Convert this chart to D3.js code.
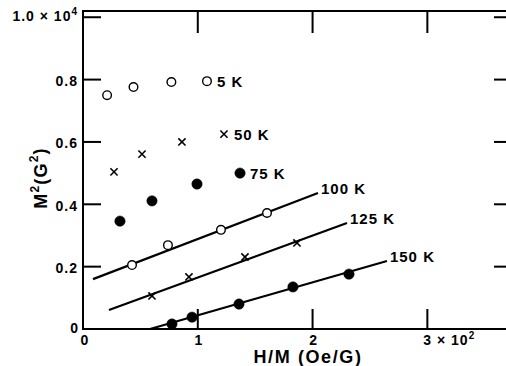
<!DOCTYPE html>
<html>
<head>
<meta charset="utf-8">
<script src="https://cdn.jsdelivr.net/npm/d3@7"></script>
<style>
  body { margin: 0; background: #fff; }
</style>
</head>
<body>
<div id="chart"></div>
<script>
// values: H/M in units of 10^2 Oe/G, M^2 in units of 10^4 G^2
const xTicks = [1, 2, 3]
const yTicks = [0.2, 0.4, 0.6, 0.8, 1.0]

const h5 = [0.21, 0.44, 0.77, 1.08]
const m5 = [0.75, 0.776, 0.792, 0.795]
const h50 = [0.27, 0.514, 0.862, 1.228]
const m50 = [0.504, 0.561, 0.6, 0.625]
const h75 = [0.322, 0.601, 0.993, 1.368]
const m75 = [0.346, 0.411, 0.465, 0.5]
const h100 = [0.427, 0.74, 1.202, 1.603]
const m100 = [0.205, 0.269, 0.318, 0.372]
const h125 = [0.601, 0.923, 1.411, 1.864]
const m125 = [0.106, 0.167, 0.231, 0.276]
const h150 = [0.775, 0.95, 1.359, 1.829, 2.317]
const m150 = [0.016, 0.038, 0.08, 0.135, 0.176]

// straight lines drawn through the 100, 125 and 150 K points (end points)
const fit100 = [[0.087, 0.16], [2.047, 0.436]]
const fit125 = [[0.226, 0.061], [2.3, 0.34]]
const fit150 = [[0.584, 0.0], [2.648, 0.218]]

const series = [
  {label: "5 K", h: h5, m: m5, mark: "open", fit: null},
  {label: "50 K", h: h50, m: m50, mark: "cross", fit: null},
  {label: "75 K", h: h75, m: m75, mark: "filled", fit: null},
  {label: "100 K", h: h100, m: m100, mark: "open", fit: fit100},
  {label: "125 K", h: h125, m: m125, mark: "cross", fit: fit125},
  {label: "150 K", h: h150, m: m150, mark: "filled", fit: fit150}
]

const svg = d3.select("#chart")
  .append("svg")
  .attr("width", 506)
  .attr("height", 366)

const x = d3.scaleLinear().domain([0, 3.72]).range([83, 510])
const y = d3.scaleLinear().domain([0, 1.02]).range([329, 11])

const xa = x(0), xb = 506, ya = y(0), yb = y.range()[1]
const font = "'Liberation Sans', Arial, sans-serif"

// tick labels
const yLab = svg.append("g").attr("font-family", font).attr("font-weight", "bold")
  .attr("font-size", 14).attr("letter-spacing", 1).attr("text-anchor", "end")
yLab.append("text").attr("x", 79).attr("y", y(0)).attr("dy", "0.3em").text("0")
yLab.selectAll(".yl").data(yTicks.slice(0, 4)).join("text")
  .attr("x", 78).attr("y", d => y(d)).attr("dy", "0.45em")
  .text(d => d3.format(".1f")(d))
const yTopLab = yLab.append("text").attr("x", 78).attr("y", y(1.0)).attr("dy", "0.3em")
yTopLab.append("tspan").text("1.0 × 10")
yTopLab.append("tspan").attr("font-size", 10).attr("dy", "-0.6em").text("4")

const xLab = svg.append("g").attr("font-family", font).attr("font-weight", "bold")
  .attr("font-size", 14).attr("letter-spacing", 1)
xLab.append("text").attr("x", x(0) + 2).attr("y", 345).attr("text-anchor", "middle").text("0")
xLab.selectAll(".xl").data(xTicks.slice(0, 2)).join("text")
  .attr("x", d => x(d) + 1).attr("y", 345).attr("text-anchor", "middle")
  .text(d => d)
const xl3 = xLab.append("text").attr("x", x(3) - 4).attr("y", 345)
xl3.append("tspan").text("3 × 10")
xl3.append("tspan").attr("font-size", 10).attr("dy", "-0.6em").text("2")

// axis titles
svg.append("text")
  .attr("x", 308).attr("y", 363)
  .attr("text-anchor", "middle")
  .attr("font-family", font).attr("font-weight", "bold")
  .attr("font-size", 18).attr("letter-spacing", 1.6)
  .text("H/M (Oe/G)")

const yt = svg.append("text")
  .attr("transform", "translate(47,178) rotate(-90)")
  .attr("text-anchor", "middle")
  .attr("font-family", font).attr("font-weight", "bold")
  .attr("font-size", 18).attr("letter-spacing", 1.2)
yt.append("tspan").text("M")
yt.append("tspan").attr("font-size", 12).attr("dy", "-0.7em").text("2")
yt.append("tspan").attr("dy", "0.45em").text("(G")
yt.append("tspan").attr("font-size", 12).attr("dy", "-0.7em").text("2")
yt.append("tspan").attr("dy", "0.45em").text(")")

// fitted lines
const fitLine = d3.line().x(d => x(d[0])).y(d => y(d[1]))
svg.append("g").selectAll("path")
  .data(series.filter(s => s.fit))
  .join("path")
  .attr("d", s => fitLine(s.fit))
  .attr("fill", "none").attr("stroke", "black").attr("stroke-width", 2.2)

// markers
series.forEach(s => {
  const pts = s.h.map((h, i) => [h, s.m[i]])
  const g = svg.append("g")
  if (s.mark === "cross") {
    g.selectAll("path").data(pts).join("path")
      .attr("d", d => {
        const cx = x(d[0]), cy = y(d[1]), r = 3.6
        return `M${cx - r},${cy - r}L${cx + r},${cy + r}M${cx - r},${cy + r}L${cx + r},${cy - r}`
      })
      .attr("stroke", "black").attr("stroke-width", 1.6)
  } else {
    g.selectAll("circle").data(pts).join("circle")
      .attr("cx", d => x(d[0])).attr("cy", d => y(d[1]))
      .attr("r", s.mark === "open" ? 4.3 : 5.2)
      .attr("fill", s.mark === "open" ? "white" : "black")
      .attr("stroke", "black").attr("stroke-width", s.mark === "open" ? 1.4 : 0.5)
  }
})

// series labels: next to last point, or at the end of the fitted line
svg.append("g").selectAll("text")
  .data(series)
  .join("text")
  .attr("font-family", font).attr("font-weight", "bold")
  .attr("font-size", 15).attr("letter-spacing", 1)
  .attr("x", s => s.fit ? x(s.fit[1][0]) + 3 : x(s.h[s.h.length - 1]) + 10)
  .attr("y", s => s.fit ? y(s.fit[1][1]) - 4 : y(s.m[s.m.length - 1]))
  .attr("dy", "0.36em")
  .text(s => s.label)

// frame and inward ticks, drawn last as thin filled bars (right axis falls off the page)
const bars = [
  [xa - 1, yb - 1, xb - xa + 1, 2],   // top
  [xa - 1, yb - 1, 2, ya - yb + 2],   // left
  [xa - 1, ya - 1, xb - xa + 1, 2]    // bottom
]
yTicks.forEach(d => {
  bars.push([xa, y(d) - 1, 18, 2])
  bars.push([xb - 12, y(d) - 1, 12, 2])
})
xTicks.forEach(d => {
  bars.push([x(d) - 1, ya - 20, 2, 20])
  bars.push([x(d) - 1, yb, 2, 22])
})
svg.append("g").selectAll("rect")
  .data(bars)
  .join("rect")
  .attr("x", d => d[0]).attr("y", d => d[1])
  .attr("width", d => d[2]).attr("height", d => d[3])
  .attr("fill", "black")
</script>
</body>
</html>
